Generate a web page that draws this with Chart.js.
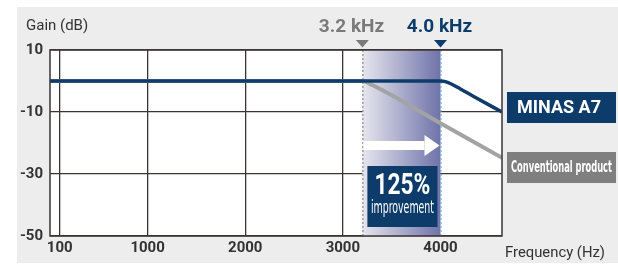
<!DOCTYPE html>
<html>
<head>
<meta charset="utf-8">
<script src="https://cdn.jsdelivr.net/npm/chart.js@4.4.1/dist/chart.umd.min.js"></script>
<style>
  html, body { margin: 0; padding: 0; background: #fff; }
  #wrap { width: 618px; height: 264px; }
</style>
</head>
<body>
<div id="wrap"><canvas id="gain-chart" width="618" height="264"></canvas></div>
<script>
// tick labels
const freqTicks = [100, 1000, 2000, 3000, 4000];
const gainTicks = [10, -10, -30, -50];

// MINAS A7 response
const minasFreq = [0, 1000, 2000, 3000, 3900, 4000, 4050, 4100, 4200, 4340, 4630];
const minasGain = [0, 0, 0, 0, 0, 0, -0.2, -0.8, -2.5, -5, -10];

// Conventional product response
const convFreq = [0, 1000, 2000, 3000, 3200, 3300, 4000, 4630];
const convGain = [0, 0, 0, 0, 0, -1.3, -13.6, -24.8];

// bandwidth markers
const bandStart = 3200;
const bandEnd = 4000;

const navy = "#0d3c6a";
const grey = "#a3a3a3";
const gridColor = "#3b3433";
const narrowFont = "'Liberation Sans Narrow', 'DejaVu Sans Condensed', sans-serif";

const toPoints = (xs, ys) => xs.map((x, i) => ({ x: x, y: ys[i] }));

const decorations = {
  id: "decorations",
  beforeDraw(chart) {
    const ctx = chart.ctx;
    const a = chart.chartArea;
    ctx.save();
    ctx.fillStyle = "#ffffff";
    ctx.fillRect(0, 0, chart.width, chart.height);
    ctx.fillStyle = "#ededed";
    ctx.fillRect(17, 7, chart.width - 17, chart.height - 8);
    ctx.fillStyle = "#ffffff";
    ctx.fillRect(a.left, a.top, a.right - a.left, a.bottom - a.top);
    ctx.restore();
  },
  beforeDatasetsDraw(chart) {
    const ctx = chart.ctx;
    const a = chart.chartArea;
    const x = chart.scales.x;
    const x1 = x.getPixelForValue(bandStart);
    const x2 = x.getPixelForValue(bandEnd);
    ctx.save();
    // shaded improvement band
    const grad = ctx.createLinearGradient(x1, 0, x2, 0);
    grad.addColorStop(0, "#e6e6ee");
    grad.addColorStop(1, "#6f73a9");
    ctx.fillStyle = grad;
    ctx.fillRect(x1, a.top, x2 - x1, a.bottom - a.top);
    // dotted markers
    ctx.lineWidth = 1;
    ctx.setLineDash([2, 2]);
    ctx.strokeStyle = "#777777";
    ctx.beginPath();
    ctx.moveTo(x1 + 0.5, a.top);
    ctx.lineTo(x1 + 0.5, a.bottom);
    ctx.stroke();
    ctx.strokeStyle = "#4ea8e6";
    ctx.beginPath();
    ctx.moveTo(x2 + 0.5, a.top);
    ctx.lineTo(x2 + 0.5, a.bottom);
    ctx.stroke();
    ctx.restore();
  },
  afterDatasetsDraw(chart) {
    const ctx = chart.ctx;
    const a = chart.chartArea;
    const x = chart.scales.x;
    const x1 = x.getPixelForValue(bandStart);
    const x2 = x.getPixelForValue(bandEnd);
    ctx.save();

    // frame
    ctx.strokeStyle = gridColor;
    ctx.lineWidth = 1.5;
    ctx.strokeRect(a.left, a.top, a.right - a.left, a.bottom - a.top);

    // white arrow
    ctx.fillStyle = "#ffffff";
    ctx.fillRect(x1 + 1, 141, x2 - x1 - 17, 9);
    ctx.beginPath();
    ctx.moveTo(x2 - 16, 135);
    ctx.lineTo(x2 - 1, 145.5);
    ctx.lineTo(x2 - 16, 156);
    ctx.closePath();
    ctx.fill();

    // 125% box
    ctx.fillStyle = navy;
    ctx.fillRect(x1 + 5, 166, x2 - x1 - 8, 61);
    ctx.fillStyle = "#ffffff";
    ctx.textAlign = "center";
    ctx.textBaseline = "middle";
    const boxMid = x1 + 5 + (x2 - x1 - 8) / 2;
    ctx.font = "bold 29px Roboto";
    ctx.fillText("125%", boxMid, 187, 56);
    ctx.font = "17px " + narrowFont;
    ctx.fillText("improvement", boxMid, 209, 63);

    // triangles above the band
    ctx.fillStyle = "#7a7a7a";
    ctx.beginPath();
    ctx.moveTo(x1 - 6.5, 40);
    ctx.lineTo(x1 + 6.5, 40);
    ctx.lineTo(x1, 47.5);
    ctx.closePath();
    ctx.fill();
    ctx.fillStyle = navy;
    ctx.beginPath();
    ctx.moveTo(x2 - 6.5, 40);
    ctx.lineTo(x2 + 6.5, 40);
    ctx.lineTo(x2, 47.5);
    ctx.closePath();
    ctx.fill();

    // frequency labels
    ctx.font = "bold 19px Roboto";
    ctx.fillStyle = "#7a7a7a";
    ctx.fillText("3.2 kHz", 351.5, 27, 69);
    ctx.fillStyle = navy;
    ctx.fillText("4.0 kHz", 439.5, 27, 69);

    // series labels on the right
    ctx.fillStyle = navy;
    ctx.fillRect(507, 92, 109, 31);
    ctx.fillStyle = "#ffffff";
    ctx.font = "bold 18px Roboto";
    ctx.fillText("MINAS A7", 559, 108, 90);
    ctx.fillStyle = "#7f7f7f";
    ctx.fillRect(507, 152, 109, 31);
    ctx.fillStyle = "#ffffff";
    ctx.font = "bold 15px " + narrowFont;
    ctx.fillText("Conventional product", 561.5, 168, 101);

    // axis titles
    ctx.fillStyle = "#333333";
    ctx.font = "15px Roboto";
    ctx.textAlign = "left";
    ctx.fillText("Gain (dB)", 26, 26);
    ctx.fillText("Frequency (Hz)", 505, 253, 100);
    ctx.restore();
  }
};

const gainChart = new Chart(document.getElementById("gain-chart"), {
  type: "line",
  data: {
    datasets: [
      {
        label: "MINAS A7",
        data: toPoints(minasFreq, minasGain),
        borderColor: navy,
        borderWidth: 3.5,
        pointRadius: 0,
        cubicInterpolationMode: "monotone",
        fill: false,
      },
      {
        label: "Conventional product",
        data: toPoints(convFreq, convGain),
        borderColor: grey,
        borderWidth: 4,
        pointRadius: 0,
        cubicInterpolationMode: "monotone",
        fill: false,
      },
    ],
  },
  options: {
    responsive: false,
    animation: false,
    layout: { padding: { top: 50, right: 116, left: 0, bottom: 0 } },
    plugins: {
      legend: { display: false },
      tooltip: { enabled: false },
    },
    scales: {
      x: {
        type: "linear",
        min: 0,
        max: 4630,
        afterBuildTicks: (s) => { s.ticks = freqTicks.map((v) => ({ value: v })); },
        afterFit: (s) => { s.height = 28; },
        grid: {
          drawTicks: false,
          lineWidth: 1.3,
          color: (c) => (c.tick && c.tick.value === bandEnd ? "rgba(0,0,0,0)" : gridColor),
        },
        border: { display: false },
        ticks: {
          autoSkip: false,
          maxRotation: 0,
          padding: 3,
          color: "#333333",
          font: { family: "Roboto", size: 15, weight: "bold" },
          callback: (v) => String(v),
        },
      },
      y: {
        min: -50,
        max: 10,
        afterBuildTicks: (s) => { s.ticks = gainTicks.map((v) => ({ value: v })); },
        afterFit: (s) => { s.width = 50; },
        grid: {
          drawTicks: false,
          lineWidth: 1.3,
          color: gridColor,
        },
        border: { display: false },
        ticks: {
          padding: 7,
          color: "#333333",
          font: { family: "Roboto", size: 15, weight: "bold" },
        },
      },
    },
  },
  plugins: [decorations],
});
</script>
</body>
</html>
